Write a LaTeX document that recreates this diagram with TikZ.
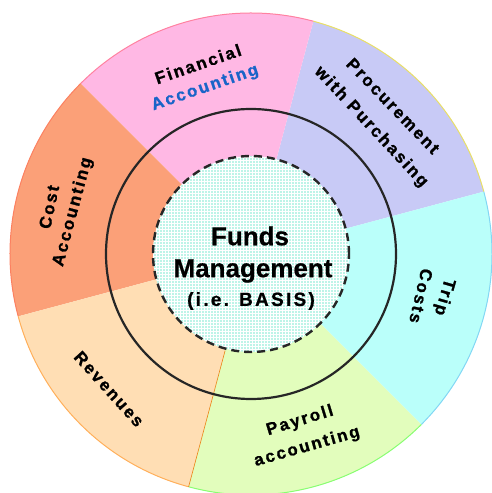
\documentclass[tikz,border=0pt]{standalone}
\usepackage{fontspec}
\setmainfont{Liberation Sans}[FakeBold=0.6]
\newfontfamily\labfont{Liberation Sans}[LetterSpace=12,FakeBold=1.2]
\newfontfamily\basisfont{Liberation Sans}[LetterSpace=12,FakeBold=0.8]
\definecolor{pinkc}{RGB}{255,184,228}
\definecolor{lavc}{RGB}{200,202,246}
\definecolor{cyanc}{RGB}{186,255,250}
\definecolor{greenc}{RGB}{226,253,188}
\definecolor{peachc}{RGB}{255,222,180}
\definecolor{orangec}{RGB}{251,160,120}
\definecolor{centc}{RGB}{190,244,232}
\definecolor{bluec}{RGB}{25,100,200}
\begin{document}
\begin{tikzpicture}[x=1pt,y=1pt,
  lab/.style={font=\labfont\bfseries\fontsize{17}{20}\selectfont, inner sep=0pt},
  centlab/.style={font=\bfseries\fontsize{26}{30}\selectfont, inner sep=0pt},
  rim/.style={line width=1pt}]
\useasboundingbox (0,0) rectangle (492,493);
\coordinate (C) at (251,239);
% sectors
\fill[lavc]    (C) -- ++(15:241)  arc[start angle=15,  end angle=75,  radius=241] -- cycle;
\fill[pinkc]   (C) -- ++(75:241)  arc[start angle=75,  end angle=135, radius=241] -- cycle;
\fill[orangec] (C) -- ++(135:241) arc[start angle=135, end angle=195, radius=241] -- cycle;
\fill[peachc]  (C) -- ++(195:241) arc[start angle=195, end angle=255, radius=241] -- cycle;
\fill[greenc]  (C) -- ++(255:241) arc[start angle=255, end angle=315, radius=241] -- cycle;
\fill[cyanc]   (C) -- ++(315:241) arc[start angle=315, end angle=375, radius=241] -- cycle;
% rim edges
\draw[rim, yellow!60!lavc] (C) ++(15:241) arc[start angle=15, end angle=75, radius=241];
\draw[rim, pinkc!70!red]   (C) ++(75:241) arc[start angle=75, end angle=135, radius=241];
\draw[rim, orangec!80!red] (C) ++(135:241) arc[start angle=135, end angle=195, radius=241];
\draw[rim, orange!50!peachc] (C) ++(195:241) arc[start angle=195, end angle=255, radius=241];
\draw[rim, green!40!greenc] (C) ++(255:241) arc[start angle=255, end angle=315, radius=241];
\draw[rim, cyan!30!cyanc]  (C) ++(315:241) arc[start angle=315, end angle=375, radius=241];
\draw[line width=0.6pt, orange!70!brown] (C) ++(255:100) -- ++(255:141);
% middle circle
\draw[line width=2.2pt, black!85] (C) circle[radius=145];
% center disc with grid
\begin{scope}
  \clip (C) circle[radius=98];
  \fill[centc] (C) circle[radius=98];
  \draw[white, line width=0.8pt, step=3] (150,138) grid (352,340);
\end{scope}
\draw[line width=2.4pt, black!85, dash pattern=on 8pt off 5pt] (C) circle[radius=98];
% centre text
\node[centlab] (funds) at (250,257) {Funds};
\node[centlab] (mgmt) at (253,222) {Management};
\node[font=\basisfont\bfseries\fontsize{19}{22}\selectfont, inner sep=0pt] (basis) at (251,192) {(i.e. BASIS)};
% outer labels
\node[lab, rotate=19] (fin1) at (198,429) {Financial};
\node[lab, rotate=19, text=bluec] (fin2) at (205,405) {Accounting};
\node[lab, rotate=-46] (proc1) at (393,387) {Procurement};
\node[lab, rotate=-47] (proc2) at (371,366) {with Purchasing};
\node[lab, rotate=78] (cost1) at (49,286) {Cost};
\node[lab, rotate=75] (cost2) at (73,281) {Accounting};
\node[lab, rotate=-106] (trip1) at (444,196) {Trip};
\node[lab, rotate=-103] (trip2) at (421,197) {Costs};
\node[lab, rotate=-48] (rev) at (109,104) {Revenues};
\node[lab, rotate=17] (pay1) at (300,72) {Payroll};
\node[lab, rotate=16] (pay2) at (307,46) {accounting};
\end{tikzpicture}
\end{document}
